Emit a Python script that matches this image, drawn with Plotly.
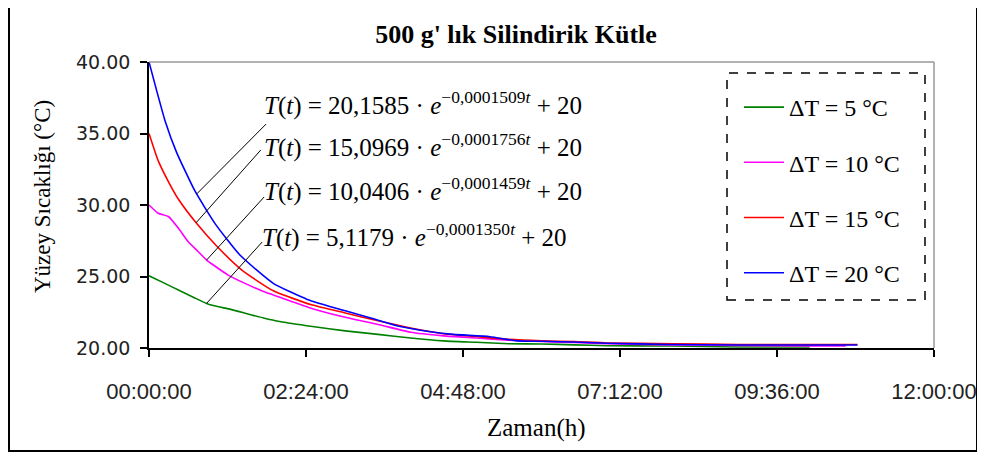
import numpy as np
import plotly.graph_objects as go

# ---------------- data ----------------
chart_title = "500 g' lık Silindirik Kütle"
x_title = "Zaman(h)"
y_title = "Yüzey Sıcaklığı (°C)"

x_tick_vals = [0, 2.4, 4.8, 7.2, 9.6, 12]
x_tick_text = ["00:00:00", "02:24:00", "04:48:00", "07:12:00", "09:36:00", "12:00:00"]
y_tick_vals = [20, 25, 30, 35, 40]

series_names = ["ΔT = 5 °C", "ΔT = 10 °C", "ΔT = 15 °C", "ΔT = 20 °C"]

# time in hours
t_dT5 = [0, 0.25, 0.45, 0.7, 0.88, 1.0, 1.25, 1.5, 1.75, 2.0, 2.5, 3.0, 3.5, 4.0,
         4.5, 5.0, 5.5, 6.0, 6.5, 7.0, 8.0, 9.0, 10.1]
T_dT5 = [25.05, 24.5, 24.05, 23.5, 23.12, 22.95, 22.7, 22.4, 22.1, 21.85, 21.5, 21.2,
         20.95, 20.7, 20.5, 20.4, 20.3, 20.28, 20.22, 20.16, 20.14, 20.07, 20.07]

t_dT10 = [0, 0.14, 0.3, 0.45, 0.6, 0.75, 0.88, 1.0, 1.21, 1.5, 1.75, 2.0, 2.5, 3.0,
          3.5, 4.0, 4.5, 5.0, 5.5, 6.0, 6.5, 7.0, 8.0, 9.0, 10.0, 10.65]
T_dT10 = [30.0, 29.42, 29.18, 28.37, 27.43, 26.75, 26.15, 25.75, 25.1, 24.45, 23.95,
          23.55, 22.75, 22.15, 21.65, 21.1, 20.85, 20.7, 20.55, 20.45, 20.38, 20.3,
          20.22, 20.18, 20.15, 20.15]

t_dT15 = [0, 0.14, 0.3, 0.45, 0.73, 1.03, 1.42, 1.9, 2.5, 3.0, 3.5, 4.0,
          4.5, 5.0, 5.5, 6.0, 6.5, 7.0, 8.0, 9.0, 10.0, 10.83]
T_dT15 = [35.0, 33.1, 31.6, 30.4, 28.7, 27.15, 25.45, 24.0, 23.0, 22.45,
          21.9, 21.4, 21.0, 20.8, 20.6, 20.5, 20.45, 20.35, 20.3, 20.25, 20.25, 20.25]

t_dT20 = [0, 0.117, 0.245, 0.42, 0.70, 1.01, 1.39, 1.90, 2.42, 3.0, 3.43,
          3.84, 4.3, 4.65, 5.21, 5.63, 6.0, 6.59, 7.0, 7.92, 9.0, 10.0, 10.83]
T_dT20 = [40.0, 38.0, 35.9, 33.7, 31.0, 28.7, 26.5, 24.52, 23.4, 22.6, 22.05,
          21.5, 21.14, 20.95, 20.79, 20.5, 20.47, 20.4, 20.33, 20.25, 20.21,
          20.21, 20.21]

equations = [
    "<i>T</i>(<i>t</i>) = 20,1585 · <i>e</i><sup>−0,0001509<i>t</i></sup> + 20",
    "<i>T</i>(<i>t</i>) = 15,0969 · <i>e</i><sup>−0,0001756<i>t</i></sup> + 20",
    "<i>T</i>(<i>t</i>) = 10,0406 · <i>e</i><sup>−0,0001459<i>t</i></sup> + 20",
    "<i>T</i>(<i>t</i>) = 5,1179 · <i>e</i><sup>−0,0001350<i>t</i></sup> + 20",
]
eq_x = [1.72, 1.72, 1.72, 1.70]
eq_y = [37.13, 34.13, 31.05, 27.9]
# leader lines: start near text, end on curve at given time
leader_start_t = [1.79, 1.71, 1.76, 1.73]
leader_start_T = [35.66, 33.85, 30.56, 27.41]
leader_end_t = [0.73, 0.72, 0.88, 0.88]

colors = ["#008000", "#ff00ff", "#ff0000", "#0000ff"]

# ---------------- figure ----------------
# page body has an 8px margin -> all page pixel positions are shifted by 8
OFF = 8
PL, PT, PW, PH = 149 - OFF, 62 - OFF, 785, 286


def px(xp):
    return (xp - 149) / PW


def py(yp):
    return (348 - yp) / PH


ts = [t_dT5, t_dT10, t_dT15, t_dT20]
Ts = [T_dT5, T_dT10, T_dT15, T_dT20]

fig = go.Figure()
for i in range(4):
    fig.add_trace(go.Scatter(
        x=ts[i], y=Ts[i], mode="lines", name=series_names[i],
        line=dict(color=colors[i], width=1.6, shape="spline", smoothing=0.5),
        legendgroup=f"g{i}",
    ))

serif = "Liberation Serif, Times New Roman, serif"

# equations + leader lines (equation k belongs to series 3-k)
for k in range(4):
    s = 3 - k
    fig.add_annotation(x=eq_x[k], y=eq_y[k], xref="x", yref="y", text=equations[k],
                       showarrow=False, xanchor="left", yanchor="middle",
                       font=dict(family=serif, size=25, color="black"))
    yend = float(np.interp(leader_end_t[k], ts[s], Ts[s]))
    fig.add_shape(type="line", xref="x", yref="y",
                  x0=leader_start_t[k], y0=leader_start_T[k],
                  x1=leader_end_t[k], y1=yend,
                  line=dict(color="black", width=1))

# plot-area gray border (top and right)
fig.add_shape(type="line", xref="paper", yref="paper", x0=0, y0=1, x1=1, y1=1,
              line=dict(color="#999999", width=1.5))
fig.add_shape(type="line", xref="paper", yref="paper", x0=1, y0=0, x1=1, y1=1,
              line=dict(color="#999999", width=1.5))

# legend dashed frame
fig.add_shape(type="rect", xref="paper", yref="paper",
              x0=px(727), x1=px(925), y0=py(300), y1=py(73),
              line=dict(color="black", width=1.5, dash="dash"))

# outer frame
fig.add_shape(type="rect", xref="paper", yref="paper",
              x0=px(9), x1=px(977), y0=py(451), y1=py(5),
              line=dict(color="black", width=2))

# axis titles
fig.add_annotation(x=px(43), y=py(197), xref="paper", yref="paper",
                   xanchor="center", yanchor="middle",
                   text=y_title, textangle=-90, showarrow=False,
                   font=dict(family=serif, size=23, color="black"))
fig.add_annotation(x=px(536), y=py(428), xref="paper", yref="paper",
                   xanchor="center", yanchor="middle",
                   text=x_title, showarrow=False,
                   font=dict(family=serif, size=25, color="black"))

fig.update_layout(
    width=985, height=459,
    margin=dict(l=PL, r=985 - PL - PW, t=PT, b=459 - PT - PH, autoexpand=False),
    paper_bgcolor="white", plot_bgcolor="white",
    title=dict(text="<b>" + chart_title + "</b>", x=(516 - OFF) / 985, xanchor="center",
               y=1 - (34 - OFF) / 459, yanchor="middle",
               font=dict(family=serif, size=26, color="black")),
    showlegend=True,
    legend=dict(x=px(739), xanchor="left", y=py(85), yanchor="top",
                bgcolor="rgba(0,0,0,0)", borderwidth=0, tracegroupgap=21,
                font=dict(family=serif, size=24, color="black"), itemwidth=40),
    xaxis=dict(range=[0, 12], tickvals=x_tick_vals, ticktext=x_tick_text,
               automargin=False,
               showgrid=False, zeroline=False, showline=True, linecolor="black",
               linewidth=1.5, ticks="outside", ticklen=7, tickcolor="black",
               tickwidth=1.5, ticklabelstandoff=16,
               tickfont=dict(family="Liberation Sans, Arial, sans-serif",
                             size=22, color="#222222")),
    yaxis=dict(range=[20, 40], tickvals=y_tick_vals, tickformat=".2f",
               automargin=False,
               showgrid=False, zeroline=False, showline=True, linecolor="black",
               linewidth=1.5, ticks="outside", ticklen=7, tickcolor="black",
               tickwidth=1.5, ticklabelstandoff=6,
               tickfont=dict(family="DejaVu Sans, sans-serif", size=19, color="#222222")),
)

fig.write_html("out.html")
